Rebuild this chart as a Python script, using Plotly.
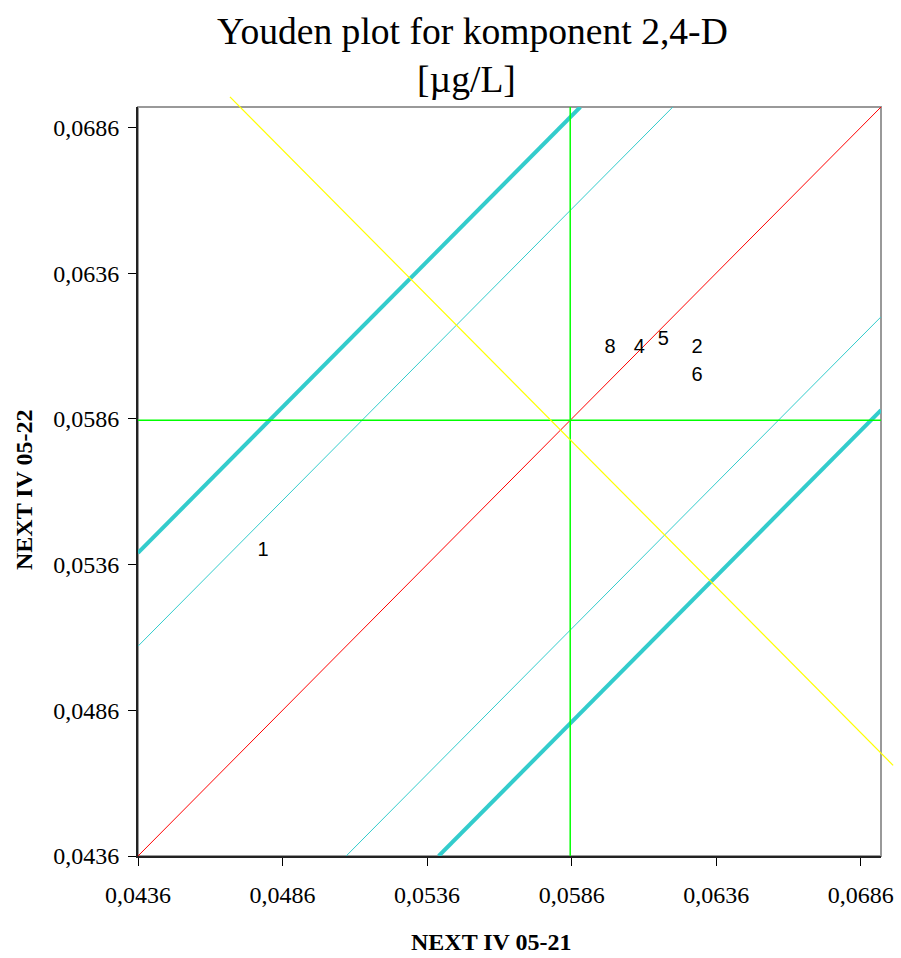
import plotly.graph_objects as go

# ---- data ----
axis_min = 0.0436
axis_max = 0.0693
tick_vals = [0.0436, 0.0486, 0.0536, 0.0586, 0.0636, 0.0686]
tick_text = ["0,0436", "0,0486", "0,0536", "0,0586", "0,0636", "0,0686"]

lab_names = ["1", "2", "4", "5", "6", "8"]
lab_x = [0.04793, 0.06294, 0.06094, 0.06177, 0.06294, 0.05993]
lab_y = [0.05406, 0.06103, 0.06103, 0.06131, 0.06007, 0.06103]

median_x = 0.05855
median_y = 0.05855

diag_x = [0.0436, 0.0693]
diag_y = [0.0436, 0.0693]
thick_upper_x = [0.0436, 0.0589]
thick_upper_y = [0.0540, 0.0693]
thin_upper_x = [0.0436, 0.0621]
thin_upper_y = [0.0508, 0.0693]
thin_lower_x = [0.0508, 0.0693]
thin_lower_y = [0.0436, 0.0621]
thick_lower_x = [0.0540, 0.0693]
thick_lower_y = [0.0436, 0.0589]
yellow_x = [0.04678, 0.06972]
yellow_y = [0.06965, 0.04671]

title_line1 = "Youden plot for komponent 2,4-D"
title_line2 = "[µg/L]"
x_title = "NEXT IV 05-21"
y_title = "NEXT IV 05-22"

# ---- layout geometry ----
W, H = 901, 958
ml, mr, mt, mb = 138, 0, 88, 102
plot_w = W - ml - mr          # 763
plot_h = H - mt - mb          # 768
main_w = 743                  # px of main plot area
main_h = 749
xdom = main_w / plot_w
ydom = main_h / plot_h
x2_max = axis_min + (axis_max - axis_min) * plot_w / main_w
y2_max = axis_min + (axis_max - axis_min) * plot_h / main_h

serif = "Liberation Serif, Times New Roman, serif"
sans = "Liberation Sans, Arial, sans-serif"
cyan = "#33CCCC"

fig = go.Figure()

def line(xs, ys, color, width, xa="x", ya="y"):
    fig.add_trace(go.Scatter(x=xs, y=ys, mode="lines", xaxis=xa, yaxis=ya,
                             line=dict(color=color, width=width),
                             hoverinfo="skip", showlegend=False))

line(diag_x, diag_y, "#FF0000", 1)
line(thin_upper_x, thin_upper_y, cyan, 1)
line(thin_lower_x, thin_lower_y, cyan, 1)
line(thick_upper_x, thick_upper_y, cyan, 4)
line(thick_lower_x, thick_lower_y, cyan, 4)
line([median_x, median_x], [axis_min, axis_max], "#00FF00", 1.5)
line([axis_min, axis_max], [median_y, median_y], "#00FF00", 1.5)
line(yellow_x, yellow_y, "#FFFF00", 1.2, "x2", "y2")

fig.add_trace(go.Scatter(x=lab_x, y=lab_y, mode="text", text=lab_names,
                         textposition="middle center",
                         textfont=dict(family=sans, size=20, color="black"),
                         hoverinfo="skip", showlegend=False))

fig.update_layout(
    width=W, height=H,
    margin=dict(l=ml, r=mr, t=mt, b=mb, pad=0, autoexpand=False),
    paper_bgcolor="white", plot_bgcolor="rgba(0,0,0,0)",
    showlegend=False,
    xaxis=dict(domain=[0, xdom], range=[axis_min, axis_max],
               tickvals=tick_vals, ticktext=tick_text,
               ticks="outside", ticklen=8, tickcolor="black", tickwidth=1,
               showgrid=False, zeroline=False, automargin=False,
               showline=True, linecolor="#222222", linewidth=2,
               ticklabelstandoff=8,
               tickfont=dict(family=serif, size=24, color="black"),
               anchor="y"),
    yaxis=dict(domain=[0, ydom], range=[axis_min, axis_max],
               tickvals=tick_vals, ticktext=tick_text,
               ticks="outside", ticklen=8, tickcolor="black", tickwidth=1,
               showgrid=False, zeroline=False, automargin=False,
               showline=True, linecolor="#222222", linewidth=2,
               ticklabelstandoff=4,
               tickfont=dict(family=serif, size=24, color="black"),
               anchor="x"),
    xaxis2=dict(domain=[0, 1], range=[axis_min, x2_max], visible=False,
                anchor="y2", fixedrange=True, automargin=False),
    yaxis2=dict(domain=[0, 1], range=[axis_min, y2_max], visible=False,
                anchor="x2", fixedrange=True, automargin=False),
    shapes=[dict(type="rect", xref="paper", yref="paper",
                 x0=0, x1=xdom, y0=0, y1=ydom,
                 line=dict(color="#999999", width=2), layer="below")],
)

def px_x(p):
    return (p - ml) / plot_w

def px_y(p):
    return (H - mb - p) / plot_h

fig.add_annotation(text=title_line1, x=px_x(472), y=px_y(32), xref="paper", yref="paper",
                   showarrow=False, font=dict(family=serif, size=37.6, color="black"),
                   xanchor="center", yanchor="middle")
fig.add_annotation(text=title_line2, x=px_x(466), y=px_y(80), xref="paper", yref="paper",
                   showarrow=False, font=dict(family=serif, size=37.6, color="black"),
                   xanchor="center", yanchor="middle")
fig.add_annotation(text="<b>" + x_title + "</b>", x=px_x(491), y=px_y(942), xref="paper", yref="paper",
                   showarrow=False, font=dict(family=serif, size=24, color="black"),
                   xanchor="center", yanchor="middle")
fig.add_annotation(text="<b>" + y_title + "</b>", x=px_x(24), y=px_y(490), xref="paper", yref="paper",
                   showarrow=False, textangle=-90, font=dict(family=serif, size=24, color="black"),
                   xanchor="center", yanchor="middle")

fig.write_html("out.html")
